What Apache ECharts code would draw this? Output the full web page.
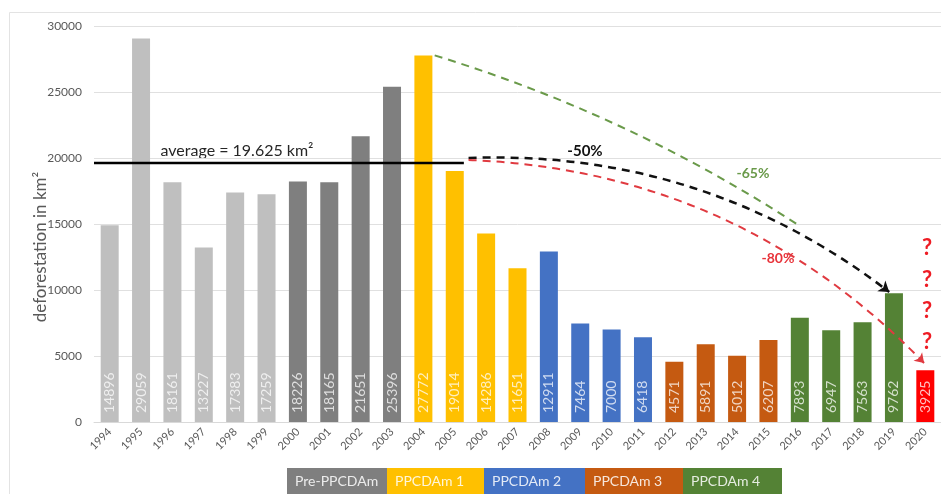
<!DOCTYPE html>
<html>
<head>
<meta charset="utf-8">
<script src="https://cdn.jsdelivr.net/npm/echarts@6/dist/echarts.min.js"></script>
<style>html,body{margin:0;padding:0;background:#fff}#c{width:941px;height:494px}</style>
</head>
<body>
<div id="c"></div>
<script>
const years = ['1994','1995','1996','1997','1998','1999','2000','2001','2002','2003','2004','2005','2006','2007','2008','2009','2010','2011','2012','2013','2014','2015','2016','2017','2018','2019','2020'];
const deforestation = [14896,29059,18161,13227,17383,17259,18226,18165,21651,25396,27772,19014,14286,11651,12911,7464,7000,6418,4571,5891,5012,6207,7893,6947,7563,9762,3925];
const barPhase = [0,0,0,0,0,0,1,1,1,1,2,2,2,2,3,3,3,3,4,4,4,4,5,5,5,5,6];
const phaseColors = ['#bfbfbf','#7f7f7f','#ffc000','#4472c4','#c55a11','#548235','#ff0000'];
const phaseNames = ['Pre-PPCDAm','PPCDAm 1','PPCDAm 2','PPCDAm 3','PPCDAm 4'];
const average = 19625;
// annotation geometry in (category index, value) coordinates
const avgLine = [[-0.5, average],[11.29, average]];
const curve65 = [[10.36, 27772],[21.9, 15000]];
const curve50 = [[11.44, 20000],[24.85, 9850]];
const curve80 = [[11.44, 19850],[25.96, 4470]];

const chart = echarts.init(document.getElementById('c'));
const FONT = 'Lato';
const gridLeft = 94, gridTop = 26, gridBottom = 72;

const legendBoxes = [[287,387],[387,484],[484,585],[585,683],[683,782]];
const graphics = [
  {type:'line', shape:{x1:9.5,y1:12.5,x2:941,y2:12.5}, style:{stroke:'#e3e3e3',lineWidth:1}},
  {type:'line', shape:{x1:9.5,y1:12.5,x2:9.5,y2:494}, style:{stroke:'#e3e3e3',lineWidth:1}},
  {type:'text', x:41, y:247, rotation:Math.PI/2, style:{text:'deforestation in km²', font:'17px Lato', fill:'#595959', align:'center', verticalAlign:'middle'}},
  {type:'text', x:237, y:151, style:{text:'average = 19.625 km²', font:'16px Lato', fill:'#262626', align:'center', verticalAlign:'middle'}},
  {type:'text', x:585, y:151, style:{text:'-50%', font:'bold 15px Lato', fill:'#111', align:'center', verticalAlign:'middle'}},
  {type:'text', x:753, y:173, style:{text:'-65%', font:'bold 14px Lato', fill:'#6a9a4a', align:'center', verticalAlign:'middle'}},
  {type:'text', x:778, y:258, style:{text:'-80%', font:'bold 14px Lato', fill:'#e8333a', align:'center', verticalAlign:'middle'}}
];
[248,280,311,342].forEach(y => graphics.push({type:'text', x:927, y:y, style:{text:'?', font:'bold 22px Lato', fill:'#ee1c24', align:'center', verticalAlign:'middle'}}));
legendBoxes.forEach((b,i) => {
  graphics.push({type:'rect', shape:{x:b[0], y:468, width:b[1]-b[0], height:26}, style:{fill:phaseColors[i+1]}});
  graphics.push({type:'text', x:b[0]+8, y:481, style:{text:phaseNames[i], font:'14px Lato', fill:'rgba(255,255,255,0.85)', align:'left', verticalAlign:'middle'}});
});

chart.setOption({
  animation:false,
  backgroundColor:'#fff',
  grid:{left:gridLeft, right:-3, top:gridTop, bottom:gridBottom, containLabel:false},
  xAxis:[
    {type:'category', data:years, axisTick:{show:false},
     axisLine:{lineStyle:{color:'#d9d9d9'}},
     axisLabel:{rotate:45, fontSize:11, color:'#595959', fontFamily:FONT, margin:8, interval:0}},
    {type:'value', min:-0.5, max:26.5, show:false}
  ],
  yAxis:{type:'value', min:0, max:30000, interval:5000,
    axisLine:{show:false}, axisTick:{show:false},
    splitLine:{lineStyle:{color:'#e0e0e0'}},
    axisLabel:{fontSize:12, color:'#595959', fontFamily:FONT, margin:12, formatter:v => String(v)}},
  series:[
    {type:'bar', xAxisIndex:0, barWidth:18,
     data: deforestation.map((v,i)=>({value:v, itemStyle:{color:phaseColors[barPhase[i]]}})),
     label:{show:true, position:'insideBottom', distance:9, rotate:90, align:'left', verticalAlign:'middle',
       color:'rgba(255,255,255,0.75)', fontSize:14, fontFamily:FONT}},
    {type:'line', xAxisIndex:1, data:avgLine, symbol:'none', lineStyle:{color:'#000', width:2.5}, z:5},
    {type:'lines', coordinateSystem:'cartesian2d', xAxisIndex:1, yAxisIndex:0, z:6,
     data:[
       {coords:curve65, symbol:['none','none'], lineStyle:{color:'#6a9a4a', width:2, opacity:1, type:[8,6], curveness:0.07}},
       {coords:curve50, symbol:['none','arrow'], symbolSize:10, lineStyle:{color:'#111', width:2.5, opacity:1, type:[8,6], curveness:0.18}},
       {coords:curve80, symbol:['none','arrow'], symbolSize:9, lineStyle:{color:'#e03a40', width:2, opacity:1, type:[8,6], curveness:0.2}}
     ]}
  ],
  graphic:graphics
});
</script>
</body>
</html>
